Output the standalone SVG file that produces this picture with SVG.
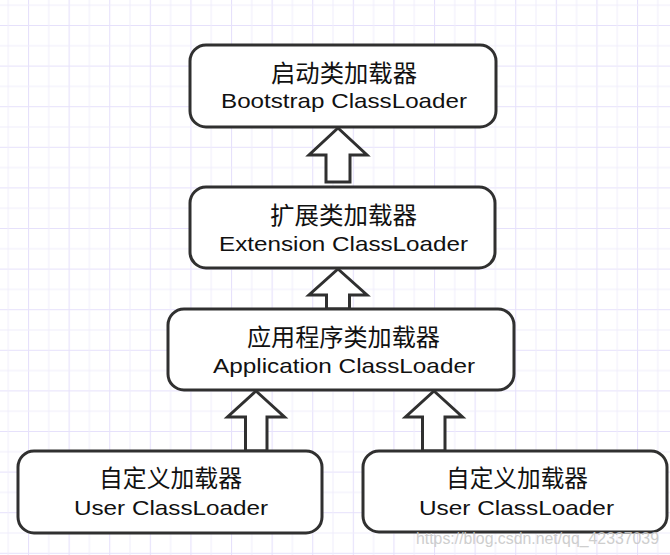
<svg xmlns="http://www.w3.org/2000/svg" width="670" height="555" viewBox="0 0 670 555">
<style>
.box{fill:#fff;stroke:#303030;stroke-width:3}
.arr{fill:#fff;stroke:#303030;stroke-width:3;stroke-linejoin:miter}
.cn{font-family:"Noto Sans CJK SC","Liberation Sans",sans-serif;font-size:24px;fill:#111;text-anchor:middle}
.en{font-family:"Liberation Sans",Arial,sans-serif;font-size:21px;fill:#111;text-anchor:middle}
.wm{font-family:"Liberation Sans",Arial,sans-serif;font-size:17px;fill:#c9c9c9;opacity:0.9}
</style>
<defs>
<pattern id="grid" patternUnits="userSpaceOnUse" x="28" y="25" width="40.6" height="40.6">
<path d="M0.5 0V40.6M0 0.5H40.6" stroke="#e6e1fb" stroke-width="1.2" fill="none"/>
<path d="M20.8 0V40.6M0 20.8H40.6" stroke="#f0edfc" stroke-width="1" fill="none"/>
</pattern>
</defs>
<rect width="670" height="555" fill="#fff"/>
<rect width="670" height="555" fill="url(#grid)"/>

<g id="connectors">
<path class="arr" d="M338 128 L367 155 L350 155 L350 182 L326 182 L326 155 L309 155 Z"/>
<path class="arr" d="M338 269 L367 295 L349.5 295 L349.5 309 L326.5 309 L326.5 295 L309 295 Z"/>
<path class="arr" d="M256 391 L284.5 417 L267 417 L267 451 L245.5 451 L245.5 417 L227.5 417 Z"/>
<path class="arr" d="M434 391 L462.5 417 L445 417 L445 451 L422.5 451 L422.5 417 L405.5 417 Z"/>
</g>

<g id="bootstrap">
<rect class="box" x="190" y="45" width="306" height="82" rx="16"/>
<text class="cn" x="344" y="82" textLength="146" lengthAdjust="spacingAndGlyphs">启动类加载器</text>
<text class="en" x="344" y="107.5" textLength="246" lengthAdjust="spacingAndGlyphs">Bootstrap ClassLoader</text>
</g>

<g id="extension">
<rect class="box" x="190" y="187" width="305" height="81" rx="16"/>
<text class="cn" x="343.5" y="224" textLength="147" lengthAdjust="spacingAndGlyphs">扩展类加载器</text>
<text class="en" x="343.5" y="250.5" textLength="249" lengthAdjust="spacingAndGlyphs">Extension ClassLoader</text>
</g>

<g id="application">
<rect class="box" x="168" y="309" width="346" height="81" rx="16"/>
<text class="cn" x="343.5" y="346" textLength="193" lengthAdjust="spacingAndGlyphs">应用程序类加载器</text>
<text class="en" x="344" y="372.5" textLength="262" lengthAdjust="spacingAndGlyphs">Application ClassLoader</text>
</g>

<g id="user1">
<rect class="box" x="18" y="451" width="304" height="82" rx="16"/>
<text class="cn" x="170.5" y="487" textLength="143" lengthAdjust="spacingAndGlyphs">自定义加载器</text>
<text class="en" x="171" y="514.5" textLength="194" lengthAdjust="spacingAndGlyphs">User ClassLoader</text>
</g>

<g id="user2">
<rect class="box" x="363" y="451" width="304" height="81" rx="16"/>
<text class="cn" x="517" y="487" textLength="142" lengthAdjust="spacingAndGlyphs">自定义加载器</text>
<text class="en" x="516.5" y="514.5" textLength="195" lengthAdjust="spacingAndGlyphs">User ClassLoader</text>
</g>

<text class="wm" x="416" y="544" textLength="243" lengthAdjust="spacingAndGlyphs">https://blog.csdn.net/qq_42337039</text>
</svg>
